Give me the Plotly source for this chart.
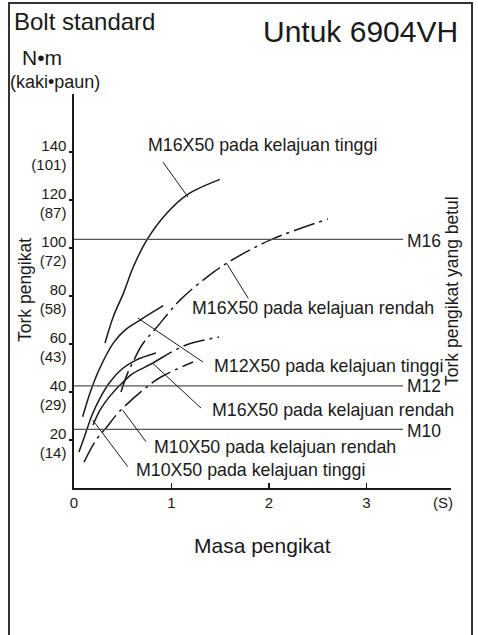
import plotly.graph_objects as go

# ---------------- data ----------------
# x = tightening time (s), y = torque (N·m)
m16_hi_x = [0.318, 0.403, 0.506, 0.609, 0.746, 0.951, 1.156, 1.497]
m16_hi_y = [60.4, 71.4, 81.1, 92.2, 103.3, 114.5, 122.1, 128.6]

m16_lo_x = [0.482, 0.554, 0.615, 0.697, 0.851, 1.087, 1.364, 1.569, 2.010, 2.605]
m16_lo_y = [40.0, 48.3, 53.3, 59.6, 67.1, 78.3, 87.9, 93.75, 103.3, 112.1]

m12_hi_x = [0.089, 0.164, 0.256, 0.410, 0.523, 0.677, 0.916]
m12_hi_y = [29.7, 39.6, 49.2, 60.8, 65.8, 70.0, 76.0]

m12_lo_x = [0.195, 0.267, 0.369, 0.472, 0.595, 0.728, 0.810, 0.913, 1.149, 1.487]
m12_lo_y = [26.25, 32.5, 38.3, 42.9, 47.5, 50.4, 52.1, 54.6, 59.6, 62.9]
m12_lo_solid_count = 7

m10_hi_x = [0.051, 0.113, 0.185, 0.267, 0.369, 0.492, 0.636, 0.841]
m10_hi_y = [15.0, 22.1, 30.4, 37.5, 44.2, 49.6, 53.3, 56.25]

m10_lo_x = [0.103, 0.226, 0.328, 0.462, 0.708, 0.892, 1.221]
m10_lo_y = [10.8, 20.0, 25.0, 31.7, 40.8, 46.25, 52.5]

std_names = ["M10", "M12", "M16"]
std_values = [24.4, 42.6, 103.6]
std_line_end = 3.374

y_tick_vals = [20, 40, 60, 80, 100, 120, 140]
y_tick_ftlb = [14, 29, 43, 58, 72, 87, 101]
x_tick_vals = [0, 1, 2, 3]

# ---------------- figure ----------------
FONT = "Liberation Sans, Arial, Helvetica, sans-serif"
INK = "#1a1a1a"
W, H = 478, 635
L, R, T, B = 74, 27, 94, 147
X_MAX, Y_MAX = 3.867, 164.2


def px(xp):
    return (xp - L) / (W - L - R)


def py(yp):
    return (H - B - yp) / (H - T - B)


DASHDOT = "22px,5px,3px,5px"
fig = go.Figure()


def curve(x, y, dash):
    fig.add_trace(go.Scatter(x=x, y=y, mode="lines", showlegend=False,
                             hoverinfo="skip",
                             line=dict(color=INK, width=1.5, dash=dash,
                                       shape="spline", smoothing=1.0)))


curve(m16_hi_x, m16_hi_y, "solid")
curve(m16_lo_x, m16_lo_y, DASHDOT)
curve(m12_hi_x, m12_hi_y, "solid")
curve(m12_lo_x[:m12_lo_solid_count], m12_lo_y[:m12_lo_solid_count], "solid")
curve(m12_lo_x[m12_lo_solid_count - 1:], m12_lo_y[m12_lo_solid_count - 1:], DASHDOT)
curve(m10_hi_x, m10_hi_y, "solid")
curve(m10_lo_x, m10_lo_y, DASHDOT)

annotations = []
std_label_dy = {"M10": -0.8, "M12": 0.0, "M16": -0.6}
for name, v in zip(std_names, std_values):
    fig.add_trace(go.Scatter(x=[0, std_line_end], y=[v, v], mode="lines",
                             showlegend=False, hoverinfo="skip",
                             line=dict(color="#555555", width=1.3)))
    annotations.append(dict(x=std_line_end + 0.02, y=v + std_label_dy[name],
                            xref="x", yref="y",
                            text=name, showarrow=False, xanchor="left",
                            yanchor="middle",
                            font=dict(size=17.5, color=INK, family=FONT)))

# curve labels with leader lines: (text, curve point, leader end, text pos)
labels = [
    ("M16X50 pada kelajuan tinggi", (1.169, 121.25), (0.913, 135.8), (0.74, 142.9)),
    ("M16X50 pada kelajuan rendah", (1.566, 93.6), (1.788, 79.0), (1.19, 75.0)),
    ("M12X50 pada kelajuan tinggi", (0.656, 70.8), (1.323, 52.5), (1.42, 50.8)),
    ("M16X50 pada kelajuan rendah", (0.807, 52.0), (1.303, 33.3), (1.39, 32.6)),
    ("M10X50 pada kelajuan rendah", (0.499, 32.5), (0.738, 19.3), (0.80, 17.1)),
    ("M10X50 pada kelajuan tinggi", (0.192, 28.3), (0.551, 8.9), (0.62, 7.5)),
]
shapes = []
for text, p0, p1, tp in labels:
    shapes.append(dict(type="line", xref="x", yref="y", x0=p0[0], y0=p0[1],
                       x1=p1[0], y1=p1[1], line=dict(color=INK, width=1)))
    annotations.append(dict(x=tp[0], y=tp[1], xref="x", yref="y", text=text,
                            showarrow=False, xanchor="left", yanchor="middle",
                            font=dict(size=17.8, color=INK, family=FONT)))

# outer frame
shapes.append(dict(type="rect", xref="paper", yref="paper",
                   x0=px(9), x1=px(472), y0=py(660), y1=py(3),
                   line=dict(color="#333333", width=2)))


def ptext(text, xp, yp, size, xanchor="left", angle=0):
    annotations.append(dict(x=px(xp), y=py(yp), xref="paper", yref="paper",
                            text=text, showarrow=False, xanchor=xanchor,
                            yanchor="middle", textangle=angle,
                            font=dict(size=size, color=INK, family=FONT)))


ptext("Bolt standard", 12, 22, 24)
ptext("Untuk 6904VH", 261, 31, 30)
ptext("N•m", 20, 58, 21)
ptext("(kaki•paun)", 8, 82, 18)
ptext("(S)", 443, 502, 15, xanchor="center")
ptext("Masa pengikat", 262, 545, 21, xanchor="center")
ptext("Tork pengikat", 25, 290, 17.5, xanchor="center", angle=-90)
ptext("Tork pengikat yang betul", 452, 291, 17.5, xanchor="center", angle=-90)

fig.update_layout(
    width=W, height=H,
    margin=dict(l=L, r=R, t=T, b=B, pad=0),
    paper_bgcolor="white", plot_bgcolor="white",
    font=dict(family=FONT, color=INK),
    shapes=shapes, annotations=annotations,
    xaxis=dict(range=[0, X_MAX], showgrid=False, zeroline=False,
               showline=True, linecolor=INK, linewidth=1.6,
               ticks="inside", ticklen=5, tickwidth=1.3, tickcolor=INK,
               tickvals=x_tick_vals, ticktext=[str(v) for v in x_tick_vals],
               tickfont=dict(size=15, color=INK, family=FONT)),
    yaxis=dict(range=[0, Y_MAX], showgrid=False, zeroline=False,
               showline=True, linecolor=INK, linewidth=1.6,
               ticks="outside", ticklen=3, tickwidth=1.3, tickcolor=INK,
               tickvals=y_tick_vals,
               ticktext=[f"{a}<br>({b})" for a, b in zip(y_tick_vals, y_tick_ftlb)],
               tickfont=dict(size=15, color=INK, family=FONT),
               ticklabelshift=3),
)

fig.write_html("out.html",
               config={"displayModeBar": False, "staticPlot": True},
               post_script="document.body.style.margin='0';"
                           "document.body.style.padding='0';")
